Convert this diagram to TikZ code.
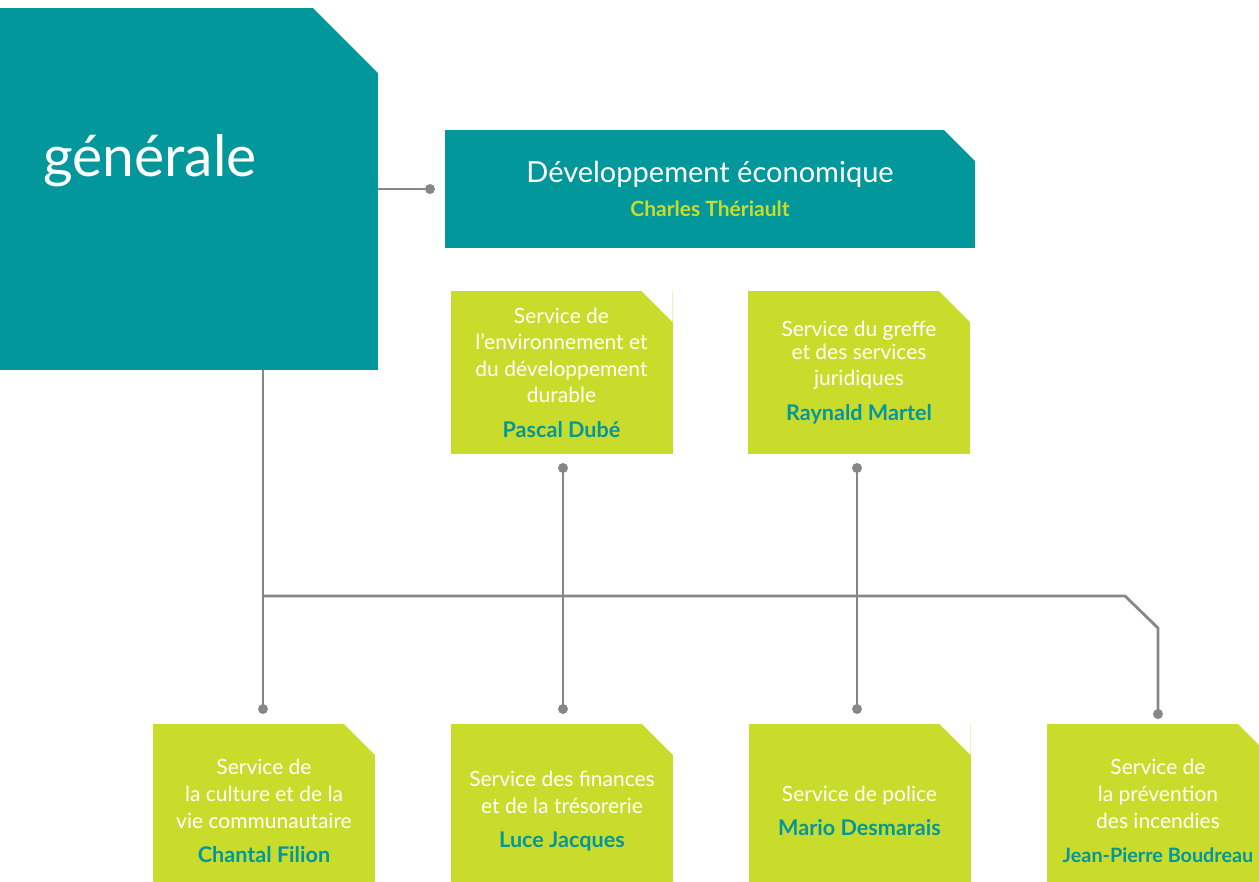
\documentclass[tikz,border=0pt]{standalone}
\usepackage{fontspec}
\setmainfont{Lato}
\usetikzlibrary{calc}
\definecolor{orgteal}{HTML}{02979B}
\definecolor{orglime}{HTML}{CADC2B}
\definecolor{orggrey}{HTML}{87878B}
\newcommand{\chief}[2][10.8]{\\[3.9pt]{\fontsize{#1}{13}\selectfont\bfseries\color{orgteal}#2}}

\begin{document}
\begin{tikzpicture}[x=0.5pt, y=-0.5pt,
	chamfer/.style={path picture={\fill[white] ([xshift=-#1]path picture bounding box.north east) -- (path picture bounding box.north east) -- ([yshift=-#1]path picture bounding box.north east) -- cycle;}},
	bigbox/.style={fill=orgteal, inner sep=0pt, align=center, text=white},
	servbox/.style={fill=orglime, inner sep=0pt, align=center, text=white, minimum width=111pt, minimum height=87pt, chamfer=15.5pt, font=\fontsize{10.5}{13.3}\selectfont},
	dot/.style={circle, fill=orggrey, inner sep=0pt, minimum size=5pt},
	link/.style={draw=orggrey, line width=1.4pt}]
	%%%%% START %%%%%
	
	\useasboundingbox (0,0) rectangle (1259,882);
	\clip (0,0) rectangle (1259,882);
	
	\node[bigbox, minimum width=189pt, minimum height=181pt, chamfer=32.5pt] (gen) at (189,189) {};
	\node[anchor=base west, text=white, inner sep=0pt, font=\fontsize{28.5}{34}\selectfont] (genlabel) at (43,177) {générale};
	
	\node[bigbox, minimum width=265pt, minimum height=59pt, chamfer=15.5pt] (dev) at (710,189)
		{{\fontsize{14.5}{17}\selectfont Développement économique}\\[5pt]
		{\fontsize{10.5}{13}\selectfont\bfseries\color{orglime}Charles Thériault}};
	
	\node[servbox, minimum height=81.5pt] (env) at (561.5,372.5)
		{Service de\\l’environnement et\\du développement\\durable\chief{Pascal Dubé}};
	\node[servbox, minimum height=81.5pt] (gre) at (859,372.5)
		{\raisebox{-2pt}{Service du greffe}\\et des services\\juridiques\chief{Raynald Martel}};
	
	\node[servbox] (cult) at (264,811)
		{Service de\\la culture et de la\\vie communautaire\chief{Chantal Filion}};
	\node[servbox] (fin) at (562,811)
		{Service des finances\\et de la trésorerie\chief{Luce Jacques}};
	\node[servbox] (pol) at (859.5,811)
		{Service de police\chief{Mario Desmarais}};
	\node[servbox] (inc) at (1158,811)
		{Service de\\la prévention\\des incendies\chief[9.9]{Jean-Pierre Boudreau}};
	
	% dots
	\node[dot] (d-dev) at (430,189) {};
	\node[dot] (d-env) at (563,468) {};
	\node[dot] (d-gre) at (857,468) {};
	\node[dot] (d-cult) at (263,709) {};
	\node[dot] (d-fin) at (563,709) {};
	\node[dot] (d-pol) at (857,709) {};
	\node[dot] (d-inc) at (1158,714) {};
	
	\coordinate (bus-w) at (263,596);
	\coordinate (bus-e) at (1125,596);
	
	\draw[link] (gen.east) -- (d-dev.center);
	\draw[link] (d-cult |- gen.south) -- (d-cult.center);
	\draw[link] (d-env.center) -- (d-fin.center);
	\draw[link] (d-gre.center) -- (d-pol.center);
	\draw[link] (bus-w) -- (bus-e) -- (d-inc |- 0,628) -- (d-inc.center);
	
	%%%%% END %%%%%
\end{tikzpicture}
\end{document}
